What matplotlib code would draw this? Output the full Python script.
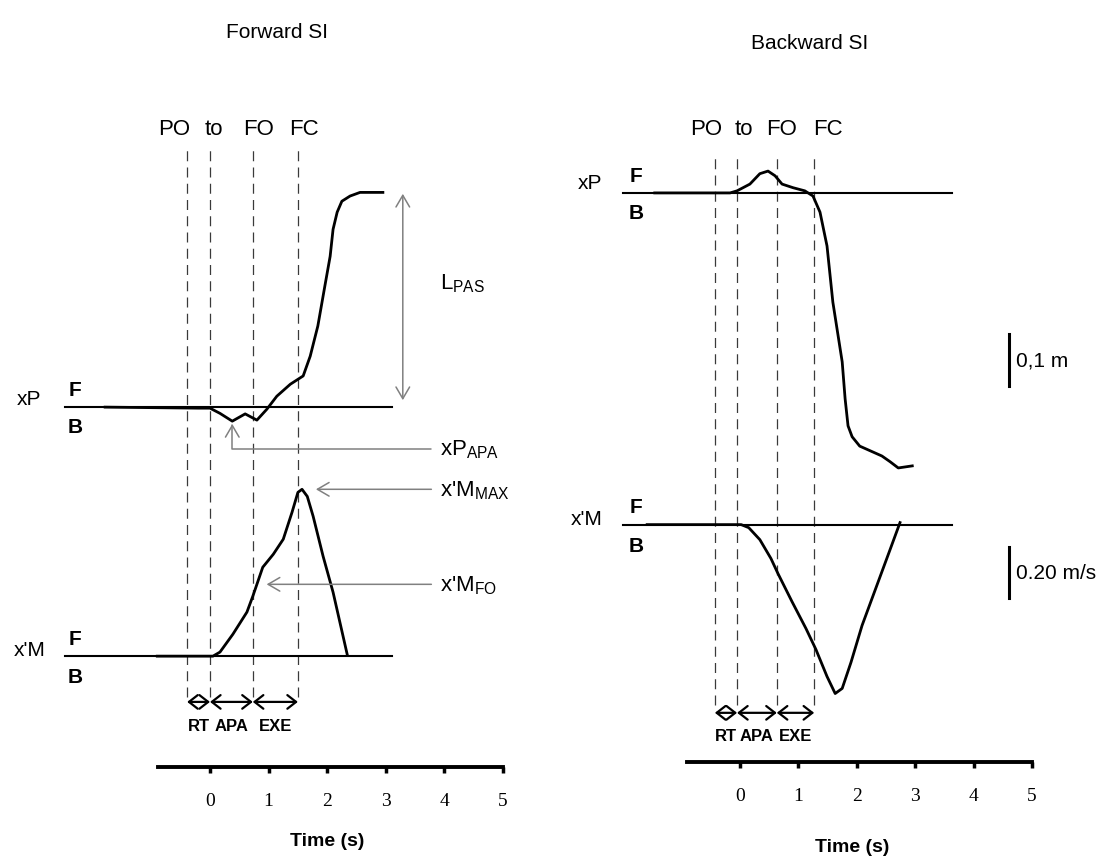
import matplotlib.pyplot as plt

plt.rcParams['font.family'] = ['Liberation Sans', 'DejaVu Sans']
plt.rcParams['mathtext.fontset'] = 'custom'
plt.rcParams['mathtext.rm'] = 'Liberation Sans'
plt.rcParams['mathtext.default'] = 'rm'

# event times (s): postural onset, go signal, foot off, foot contact
event_names = ['PO', 'to', 'FO', 'FC']
fwd_events = [-0.39, 0.00, 0.73, 1.50]
bwd_events = [-0.43, -0.05, 0.63, 1.27]
phase_names = ['RT', 'APA', 'EXE']
time_ticks = [0, 1, 2, 3, 4, 5]

# forward step: CoP displacement xP (m) and CoM velocity x'M (m/s)
fwd_xp_t = [-1.79, -0.20, 0.00, 0.17, 0.38, 0.60, 0.80, 0.97, 1.14, 1.37, 1.59,
            1.71, 1.84, 1.96, 2.05, 2.10, 2.17, 2.25, 2.39, 2.56, 2.95]
fwd_xp = [0.0, -0.002, -0.002, -0.012, -0.027, -0.013, -0.025, -0.004, 0.021, 0.044, 0.060,
          0.098, 0.156, 0.233, 0.290, 0.342, 0.375, 0.396, 0.406, 0.413, 0.413]
fwd_vm_t = [-0.90, 0.05, 0.17, 0.39, 0.63, 0.73, 0.90, 1.08, 1.25, 1.40, 1.50,
            1.57, 1.66, 1.76, 1.93, 2.10, 2.34]
fwd_vm = [0.0, 0.0, 0.016, 0.086, 0.173, 0.235, 0.349, 0.400, 0.459, 0.565, 0.643,
          0.655, 0.627, 0.549, 0.392, 0.251, 0.008]

# backward step
bwd_xp_t = [-1.46, -0.17, -0.05, 0.17, 0.34, 0.48, 0.60, 0.72, 0.91, 1.11, 1.25, 1.37,
            1.49, 1.59, 1.75, 1.80, 1.85, 1.92, 2.05, 2.23, 2.43, 2.57, 2.71, 2.83, 2.95]
bwd_xp = [0.0, 0.0, 0.004, 0.017, 0.037, 0.042, 0.033, 0.017, 0.010, 0.004, -0.006, -0.037,
          -0.102, -0.210, -0.325, -0.396, -0.448, -0.469, -0.487, -0.496, -0.506, -0.517,
          -0.529, -0.527, -0.525]
bwd_vm_t = [-1.59, 0.02, 0.15, 0.34, 0.53, 0.65, 0.89, 1.13, 1.30, 1.49, 1.63,
            1.75, 1.90, 2.09, 2.33, 2.57, 2.74]
bwd_vm = [0.0, 0.0, -0.012, -0.059, -0.133, -0.192, -0.302, -0.408, -0.490, -0.596, -0.663,
          -0.643, -0.541, -0.396, -0.247, -0.098, 0.008]

# scale bars
disp_bar = 0.1    # m
vel_bar = 0.20    # m/s

VEL_GAIN = 0.49   # m/s drawn at the same height as this many m
GREY = '#808080'

fig = plt.figure(figsize=(11.13, 8.62), dpi=100)
axL = fig.add_axes([0, 0, 0.5, 1])
axR = fig.add_axes([0.5, 0, 0.5, 1])
axL.set_xlim(-3.584, 5.913)
axL.set_ylim(-0.873, 0.785)
axR.set_xlim(-3.142, 6.387)
axR.set_ylim(-1.285, 0.373)


def draw_panel(ax, lay, events, xp_t, xp, vm_t, vm):
    ax.patch.set_alpha(0)
    for s in ['left', 'right', 'top']:
        ax.spines[s].set_visible(False)
    ax.set_yticks([])

    # time axis
    ax.spines['bottom'].set_position(('data', lay['axis_y']))
    ax.spines['bottom'].set_bounds(lay['axis_t0'], time_ticks[-1])
    ax.spines['bottom'].set_linewidth(2.8)
    ax.set_xticks(time_ticks)
    ax.tick_params(axis='x', direction='out', length=4, width=2.5, pad=14, labelsize=14)
    for lab in ax.get_xticklabels():
        lab.set_fontfamily('Liberation Serif')
    ax.text(lay['xlab'][0], lay['xlab'][1], 'Time (s)', ha='center', va='center',
            fontsize=14, fontweight='bold')

    ax.text(lay['title'][0], lay['title'][1], lay['name'], ha='center', va='center', fontsize=15)

    # event markers
    ax.vlines(events, lay['dash'][1], lay['dash'][0], colors='#3a3a3a', lw=0.9,
              linestyles=(0, (8, 5)))
    for name, tx in zip(event_names, lay['ev_x']):
        ax.text(tx, lay['ev_y'], name, ha='center', va='center', fontsize=16)

    # phases between markers
    for i, name in enumerate(phase_names):
        ax.annotate('', xy=(events[i + 1], lay['ph_y']), xytext=(events[i], lay['ph_y']),
                    arrowprops=dict(arrowstyle='<->,head_length=0.45,head_width=0.35',
                                    lw=1.6, color='black', shrinkA=0, shrinkB=0,
                                    mutation_scale=14))
        ax.text((events[i] + events[i + 1]) / 2, lay['ph_lab_y'], name, ha='center',
                va='center', fontsize=12, fontweight='bold')

    # xP trace
    ax.plot(lay['base_t'], [0, 0], color='black', lw=1.5)
    ax.plot(xp_t, xp, color='black', lw=2.0, solid_joinstyle='round')
    ax.text(lay['xp_lab'][0], lay['xp_lab'][1], 'xP', ha='center', va='center', fontsize=15)
    ax.text(lay['fb_t'], 0.034, 'F', ha='center', va='center', fontsize=15, fontweight='bold')
    ax.text(lay['fb_t'], -0.038, 'B', ha='center', va='center', fontsize=15, fontweight='bold')

    # x'M trace
    vb = lay['vm_base']
    ax.plot(lay['base_t'], [vb, vb], color='black', lw=1.5)
    ax.plot(vm_t, [vb + VEL_GAIN * v for v in vm], color='black', lw=2.0,
            solid_joinstyle='round')
    ax.text(lay['vm_lab'], vb + 0.012, "x'M", ha='center', va='center', fontsize=15)
    ax.text(lay['fb_t'], vb + 0.034, 'F', ha='center', va='center', fontsize=15, fontweight='bold')
    ax.text(lay['fb_t'], vb - 0.040, 'B', ha='center', va='center', fontsize=15, fontweight='bold')


layL = dict(name='Forward SI', title=(1.14, 0.722), axis_y=-0.692, axis_t0=-0.89,
            xlab=(2.0, -0.834), dash=(0.496, -0.557), ev_x=[-0.61, 0.06, 0.82, 1.60],
            ev_y=0.535, ph_y=-0.567, ph_lab_y=-0.613, base_t=[-2.47, 3.11],
            xp_lab=(-3.09, 0.017), fb_t=-2.30, vm_base=-0.479, vm_lab=-3.07)
layR = dict(name='Backward SI', title=(1.20, 0.290), axis_y=-1.094, axis_t0=-0.91,
            xlab=(1.92, -1.258), dash=(0.075, -0.985), ev_x=[-0.58, 0.07, 0.72, 1.51],
            ev_y=0.123, ph_y=-1.000, ph_lab_y=-1.044, base_t=[-2.00, 3.63],
            xp_lab=(-2.57, 0.021), fb_t=-1.78, vm_base=-0.638, vm_lab=-2.62)

draw_panel(axL, layL, fwd_events, fwd_xp_t, fwd_xp, fwd_vm_t, fwd_vm)
draw_panel(axR, layR, bwd_events, bwd_xp_t, bwd_xp, bwd_vm_t, bwd_vm)

# step length of the forward step
lpas_t = 3.29
axL.annotate('', xy=(lpas_t, fwd_xp[-1]), xytext=(lpas_t, 0),
             arrowprops=dict(arrowstyle='<->,head_length=0.6,head_width=0.35', lw=1.1,
                             color=GREY, shrinkA=5, shrinkB=1, mutation_scale=14))
axL.text(3.92, 0.240, r'L$_{PAS}$', ha='left', va='center', fontsize=16)

# APA dip of xP, peak velocity and velocity at foot off
lab_t = 3.92
arrow_kw = dict(arrowstyle='->,head_length=0.6,head_width=0.35', lw=1.1, color=GREY,
                mutation_scale=14)
i_apa = fwd_xp.index(min(fwd_xp))
axL.annotate(r'xP$_{APA}$', xy=(fwd_xp_t[i_apa], fwd_xp[i_apa]), xytext=(lab_t, -0.080),
             ha='left', va='center', fontsize=16,
             arrowprops=dict(arrow_kw, shrinkA=4, shrinkB=2,
                             connectionstyle='angle,angleA=0,angleB=90,rad=0'))
vb = layL['vm_base']
i_max = fwd_vm.index(max(fwd_vm))
y_max = vb + VEL_GAIN * fwd_vm[i_max]
axL.annotate(r"x'M$_{MAX}$", xy=(fwd_vm_t[i_max], y_max), xytext=(lab_t, y_max),
             ha='left', va='center', fontsize=16,
             arrowprops=dict(arrow_kw, shrinkA=4, shrinkB=10))
fo_t, fo_vm = 0.80, 0.282
y_fo = vb + VEL_GAIN * fo_vm
axL.annotate(r"x'M$_{FO}$", xy=(fo_t, y_fo), xytext=(lab_t, y_fo),
             ha='left', va='center', fontsize=16,
             arrowprops=dict(arrow_kw, shrinkA=4, shrinkB=7))

# scale bars
bar_t = 4.61
axR.plot([bar_t, bar_t], [-0.271, -0.271 - disp_bar], color='black', lw=2.2)
axR.text(bar_t + 0.11, -0.271 - disp_bar / 2, '0,1 m', ha='left', va='center', fontsize=15)
axR.plot([bar_t, bar_t], [-0.681, -0.681 - VEL_GAIN * vel_bar], color='black', lw=2.2)
axR.text(bar_t + 0.11, -0.681 - VEL_GAIN * vel_bar / 2, '0.20 m/s', ha='left', va='center', fontsize=15)

fig.savefig('out.png', dpi=100, facecolor='white')
